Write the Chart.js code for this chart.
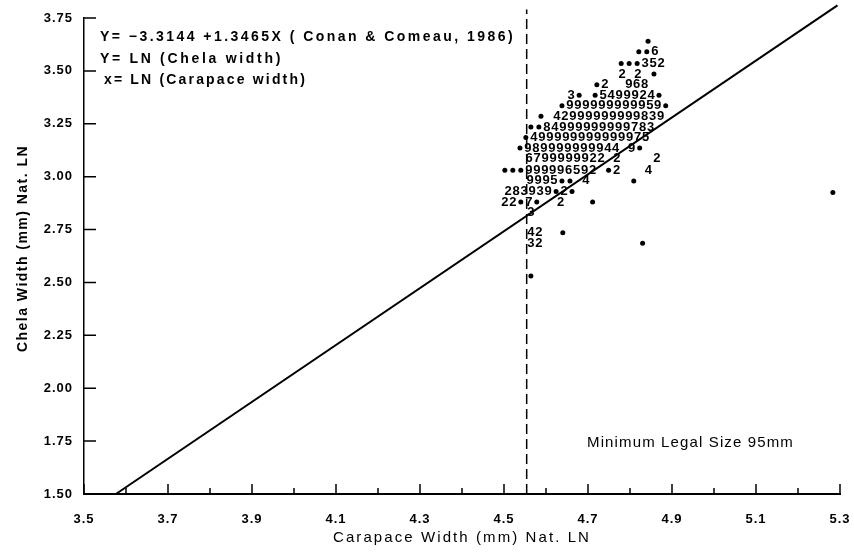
<!DOCTYPE html>
<html>
<head>
<meta charset="utf-8">
<script src="https://cdn.jsdelivr.net/npm/chart.js@4.4.1/dist/chart.umd.min.js"></script>
<style>
  html, body { margin: 0; background: #fff; }
  canvas { display: block; }
</style>
</head>
<body>
<canvas id="chart" width="854" height="552"></canvas>
<script>
// printer plot rows: '.' = one crab, digit = number of crabs in the cell (9 = nine or more)
const rowY = [3.64, 3.59, 3.535, 3.485, 3.435, 3.385, 3.335, 3.285, 3.235, 3.185, 3.135,
              3.085, 3.03, 2.98, 2.93, 2.88, 2.83, 2.735, 2.685, 2.53, 2.925];
const rowX = [4.843, 4.821, 4.779, 4.781, 4.721, 4.660, 4.638, 4.588, 4.564, 4.552, 4.538,
              4.560, 4.502, 4.562, 4.510, 4.502, 4.564, 4.564, 4.564, 4.564, 5.283];
const rowText = [
  ".",
  "..6",
  "...352",
  "2 2 .",
  ".2  968",
  "3. .5499924.",
  ".999999999959.",
  ". 42999999999839",
  "..84999999999783",
  ".499999999999975",
  ".989999999944 9.",
  "6799999922 2    2",
  "...999996592 .2   4",
  "9995.. 4     .",
  "283939.2.",
  "22.7.  2   .",
  "3",
  "42  .",
  "32            .",
  ".",
  "."
];
const COL = 0.019; // width of one print column, in ln units

// regression line Y = -3.3144 + 1.3465X, ends
const fitX = [3.576, 5.294];
const fitY = [1.5, 3.81];

// minimum legal size 95 mm -> ln(95)
const legalX = 4.554;
const legalY = [1.5, 3.79];

const xTicks = [3.5, 3.7, 3.9, 4.1, 4.3, 4.5, 4.7, 4.9, 5.1, 5.3];
const xTickLabels = ["3.5", "3.7", "3.9", "4.1", "4.3", "4.5", "4.7", "4.9", "5.1", "5.3"];
const xMinor = [3.6, 3.8, 4.0, 4.2, 4.4, 4.6, 4.8, 5.0, 5.2];
const yTicks = [1.5, 1.75, 2.0, 2.25, 2.5, 2.75, 3.0, 3.25, 3.5, 3.75];
const yTickLabels = ["1.50", "1.75", "2.00", "2.25", "2.50", "2.75", "3.00", "3.25", "3.50", "3.75"];

const FONT = '"Liberation Sans", Arial, Helvetica, sans-serif';
const NARROW = '"Liberation Sans Narrow", "Arial Narrow", "Liberation Sans", sans-serif';

let marks = [];
rowText.forEach((s, r) => {
  [...s].forEach((ch, i) => {
    if (ch !== " ") marks.push({ x: rowX[r] + i * COL, y: rowY[r], ch });
  });
});
const dots = marks.filter(m => m.ch === ".");
const counts = marks.filter(m => m.ch !== ".");

function fitText(ctx, s, x, y, w) {
  ctx.letterSpacing = "0px";
  const m = ctx.measureText(s).width;
  ctx.letterSpacing = ((w - m) / s.length) + "px";
  ctx.fillText(s, x, y);
}

const printerPlot = {
  id: "printerPlot",
  beforeDraw(chart) {
    chart.ctx.letterSpacing = "1px";
  },
  afterDatasetsDraw(chart) {
    const ctx = chart.ctx;
    const meta = chart.getDatasetMeta(3);
    ctx.save();
    ctx.letterSpacing = "0px";
    ctx.font = "bold 13px " + FONT;
    ctx.fillStyle = "#000";
    ctx.textAlign = "center";
    ctx.textBaseline = "middle";
    meta.data.forEach((el, i) => ctx.fillText(counts[i].ch, el.x, el.y));
    ctx.restore();
  },
  afterDraw(chart) {
    const ctx = chart.ctx;
    const xs = chart.scales.x, ys = chart.scales.y, ca = chart.chartArea;
    ctx.save();
    ctx.strokeStyle = "#000";
    ctx.lineWidth = 1.5;
    ctx.beginPath();
    xTicks.forEach(v => {
      const p = xs.getPixelForValue(v);
      ctx.moveTo(p, ca.bottom); ctx.lineTo(p, ca.bottom - 10);
    });
    xMinor.forEach(v => {
      const p = xs.getPixelForValue(v);
      ctx.moveTo(p, ca.bottom); ctx.lineTo(p, ca.bottom - 6);
    });
    yTicks.forEach(v => {
      const p = ys.getPixelForValue(v);
      ctx.moveTo(ca.left, p); ctx.lineTo(ca.left + 12, p);
    });
    ctx.stroke();

    ctx.fillStyle = "#000";
    ctx.textAlign = "left";
    ctx.textBaseline = "alphabetic";
    ctx.font = "bold 14px " + FONT;
    fitText(ctx, "Y= \u22123.3144 +1.3465X ( Conan & Comeau, 1986)", 100, 41, 415);
    fitText(ctx, "Y= LN (Chela width)", 100, 63, 183);
    fitText(ctx, "x= LN (Carapace width)", 104, 84, 203);

    ctx.font = "15px " + NARROW;
    fitText(ctx, "Minimum Legal Size 95mm", 587, 447, 207);
    fitText(ctx, "Carapace Width (mm) Nat. LN", 333, 542, 258);

    ctx.font = "bold 14px " + FONT;
    ctx.translate(27, 352);
    ctx.rotate(-Math.PI / 2);
    fitText(ctx, "Chela Width (mm) Nat. LN", 0, 0, 207);
    ctx.restore();
  }
};

new Chart(document.getElementById("chart"), {
  type: "scatter",
  data: {
    datasets: [
      {
        type: "line",
        data: fitX.map((x, i) => ({ x, y: fitY[i] })),
        borderColor: "#000",
        borderWidth: 2,
        pointRadius: 0,
        clip: false
      },
      {
        type: "line",
        data: legalY.map(y => ({ x: legalX, y })),
        borderColor: "#000",
        borderWidth: 1.5,
        borderDash: [10, 5],
        pointRadius: 0,
        clip: false
      },
      {
        data: dots,
        pointRadius: 2.5,
        pointBackgroundColor: "#000",
        pointBorderWidth: 0
      },
      {
        data: counts,
        pointRadius: 0
      }
    ]
  },
  options: {
    responsive: false,
    animation: false,
    layout: { padding: { top: 18, right: 14, left: 0, bottom: 0 } },
    plugins: { legend: { display: false }, tooltip: { enabled: false } },
    scales: {
      x: {
        type: "linear",
        min: 3.5,
        max: 5.3,
        afterBuildTicks: s => { s.ticks = xTicks.map(v => ({ value: v })); },
        afterFit: s => { s.height = 58; s.paddingLeft = 0; s.paddingRight = 0; },
        grid: { display: false },
        border: { color: "#000", width: 2 },
        ticks: {
          callback: (v, i) => xTickLabels[i],
          font: { family: FONT, size: 13, weight: "bold" },
          color: "#000",
          padding: 10,
          maxRotation: 0,
          autoSkip: false
        }
      },
      y: {
        type: "linear",
        min: 1.5,
        max: 3.75,
        afterBuildTicks: s => { s.ticks = yTicks.map(v => ({ value: v })); },
        afterFit: s => { s.width = 84; s.paddingTop = 0; s.paddingBottom = 0; },
        grid: { display: false },
        border: { color: "#000", width: 1.5 },
        ticks: {
          callback: (v, i) => yTickLabels[i],
          font: { family: FONT, size: 13, weight: "bold" },
          color: "#000",
          padding: 3,
          autoSkip: false
        }
      }
    }
  },
  plugins: [printerPlot]
});
</script>
</body>
</html>
